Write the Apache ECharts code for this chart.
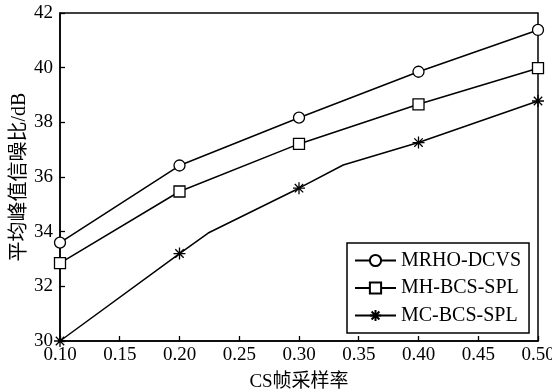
<!DOCTYPE html>
<html>
<head>
<meta charset="utf-8">
<script src="https://cdn.jsdelivr.net/npm/echarts@6/dist/echarts.min.js"></script>
<style>html,body{margin:0;padding:0;background:#fff}#c{width:552px;height:389px}</style>
</head>
<body>
<div id="c"></div>
<script>
const seriesNames = ['MRHO-DCVS', 'MH-BCS-SPL', 'MC-BCS-SPL'];
const xTicks = [0.10, 0.15, 0.20, 0.25, 0.30, 0.35, 0.40, 0.45, 0.50];
const yTicks = [30, 32, 34, 36, 38, 40, 42];
// [x, y, showMarker]
const mrho = [[0.10, 33.6, 1], [0.20, 36.42, 1], [0.30, 38.17, 1], [0.40, 39.85, 1], [0.50, 41.38, 1]];
const mh = [[0.10, 32.85, 1], [0.20, 35.47, 1], [0.30, 37.21, 1], [0.40, 38.66, 1], [0.50, 39.98, 1]];
const mc = [[0.10, 30.0, 1], [0.20, 33.2, 1], [0.224, 33.95, 0], [0.30, 35.59, 1], [0.337, 36.44, 0], [0.40, 37.26, 1], [0.50, 38.78, 1]];

const FONT = "'Liberation Serif', 'Noto Sans CJK SC', serif";
const STAR = 'path://M0,-6L0,6M-6,0L6,0M-4.2,-4.2L4.2,4.2M-4.2,4.2L4.2,-4.2';

function mk(name, data, symbol, fill, size) {
  return {
    name: name, type: 'line',
    data: data.map(d => ({ value: [d[0], d[1]], symbol: d[2] ? symbol : 'none' })),
    symbol: symbol, symbolSize: size, showAllSymbol: true,
    lineStyle: { color: '#000', width: 1.5 },
    itemStyle: { color: fill, borderColor: '#000', borderWidth: 1.3 },
    emphasis: { disabled: true },
    z: 3
  };
}

const chart = echarts.init(document.getElementById('c'));
chart.setOption({
  animation: false,
  backgroundColor: '#fff',
  textStyle: { fontFamily: FONT },
  grid: { left: 60, right: 14, top: 13, bottom: 48, containLabel: false, outerBoundsMode: 'none', show: true, borderColor: '#000', borderWidth: 1.5, backgroundColor: 'transparent' },
  xAxis: {
    type: 'value', min: xTicks[0], max: xTicks[xTicks.length - 1], interval: 0.05,
    name: 'CS帧采样率', nameLocation: 'middle', nameGap: 32, nameMoveOverlap: false,
    nameTextStyle: { fontSize: 19, color: '#000', fontFamily: FONT },
    axisLine: { lineStyle: { color: '#000', width: 1.5 } },
    axisTick: { inside: true, length: 5, lineStyle: { color: '#000', width: 1.3 } },
    axisLabel: { fontSize: 19, color: '#000', margin: 5, fontFamily: FONT, formatter: v => v.toFixed(2) },
    splitLine: { show: false }
  },
  yAxis: {
    type: 'value', min: yTicks[0], max: yTicks[yTicks.length - 1], interval: 2,
    name: '平均峰值信噪比/dB', nameLocation: 'middle', nameGap: 30, nameRotate: 90, nameMoveOverlap: false,
    nameTextStyle: { fontSize: 20, color: '#000', fontFamily: FONT },
    axisLine: { lineStyle: { color: '#000', width: 1.5 } },
    axisTick: { inside: true, length: 5, lineStyle: { color: '#000', width: 1.3 } },
    axisLabel: { fontSize: 19, color: '#000', margin: 7, fontFamily: FONT },
    splitLine: { show: false }
  },
  legend: {
    orient: 'vertical', left: 347, top: 243,
    data: seriesNames,
    itemWidth: 41, itemHeight: 14, itemGap: 7.5,
    padding: [7.5, 8, 7.5, 7],
    borderColor: '#000', borderWidth: 1.5, backgroundColor: '#fff',
    textStyle: { fontSize: 20, color: '#000', lineHeight: 20, fontFamily: FONT },
    selectedMode: false
  },
  series: [
    mk(seriesNames[0], mrho, 'circle', '#fff', 11),
    mk(seriesNames[1], mh, 'rect', '#fff', 11),
    mk(seriesNames[2], mc, STAR, '#000', 12)
  ]
});
</script>
</body>
</html>
